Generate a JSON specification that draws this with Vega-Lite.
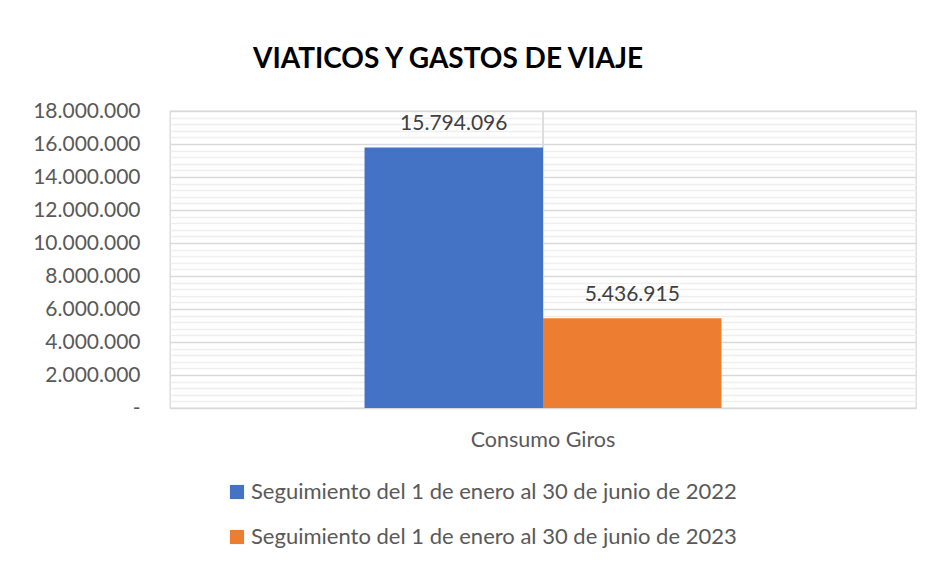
{
  "$schema": "https://vega.github.io/schema/vega-lite/v6.json",
  "width": 746,
  "height": 297,
  "autosize": {"type": "none"},
  "padding": {"left": 170, "top": 111, "right": 18, "bottom": 157},
  "background": "white",
  "config": {
    "locale": {"number": {"decimal": ",", "thousands": ".", "grouping": [3], "currency": ["$", ""]}},
    "font": "Lato",
    "view": {"stroke": "#D9D9D9", "strokeWidth": 1.3}
  },
  "title": {
    "text": "VIATICOS Y GASTOS DE VIAJE",
    "font": "Lato",
    "fontSize": 28,
    "fontWeight": "bold",
    "color": "#000000",
    "anchor": "middle",
    "dx": -95,
    "offset": 26
  },
  "data": {
    "values": [
      {"categoria": "Consumo Giros", "periodo": "Seguimiento del 1 de enero al 30 de junio de 2022", "valor": 15794096},
      {"categoria": "Consumo Giros", "periodo": "Seguimiento del 1 de enero al 30 de junio de 2023", "valor": 5436915}
    ]
  },
  "encoding": {
    "x": {
      "field": "categoria",
      "type": "nominal",
      "scale": {"paddingInner": 0, "paddingOuter": 0.545},
      "axis": {
        "title": null,
        "labelAngle": 0,
        "ticks": false,
        "domain": false,
        "grid": false,
        "labelFontSize": 21.5,
        "labelColor": "#595959",
        "labelPadding": 21
      }
    }
  },
  "layer": [
    {
      "mark": {"type": "rule", "color": "#D9D9D9", "strokeWidth": 1.3},
      "encoding": {}
    },
    {
      "mark": {"type": "bar"},
      "encoding": {
        "xOffset": {"field": "periodo", "type": "nominal", "scale": {"padding": 0}},
        "y": {
          "field": "valor",
          "type": "quantitative",
          "scale": {"domain": [0, 18000000], "nice": false},
          "axis": {
            "title": null,
            "orient": "left",
            "values": [0, 2000000, 4000000, 6000000, 8000000, 10000000, 12000000, 14000000, 16000000, 18000000],
            "format": ",.0f",
            "labelExpr": "datum.value == 0 ? '-\u00a0\u00a0' : datum.label",
            "grid": true,
            "gridColor": "#D9D9D9",
            "gridWidth": 1.3,
            "domain": false,
            "ticks": false,
            "labelFontSize": 21,
            "labelColor": "#595959",
            "labelPadding": 30
          }
        },
        "color": {
          "field": "periodo",
          "type": "nominal",
          "scale": {"range": ["#4472C4", "#ED7D31"]},
          "legend": {
            "title": null,
            "orient": "none",
            "legendX": 56,
            "legendY": 370,
            "direction": "vertical",
            "padding": 0,
            "symbolType": "square",
            "symbolSize": 200,
            "symbolStrokeWidth": 0,
            "labelFontSize": 22,
            "labelColor": "#595959",
            "labelOffset": 3,
            "rowPadding": 23,
            "labelLimit": 800
          }
        }
      }
    },
    {
      "mark": {"type": "text", "baseline": "alphabetic", "dy": -17, "fontSize": 21, "color": "#404040"},
      "encoding": {
        "xOffset": {"field": "periodo", "type": "nominal", "scale": {"padding": 0}},
        "y": {
          "field": "valor",
          "type": "quantitative",
          "axis": {
            "title": null,
            "orient": "right",
            "values": [400000, 800000, 1200000, 1600000, 2400000, 2800000, 3200000, 3600000, 4400000, 4800000, 5200000, 5600000, 6400000, 6800000, 7200000, 7600000, 8400000, 8800000, 9200000, 9600000, 10400000, 10800000, 11200000, 11600000, 12400000, 12800000, 13200000, 13600000, 14400000, 14800000, 15200000, 15600000, 16400000, 16800000, 17200000, 17600000],
            "labels": false,
            "ticks": false,
            "domain": false,
            "grid": true,
            "gridColor": "#EFEFEF",
            "gridWidth": 1.3
          }
        },
        "text": {"field": "valor", "type": "quantitative", "format": ",.0f"}
      }
    }
  ],
  "resolve": {"scale": {"y": "shared"}, "axis": {"y": "independent"}}
}
